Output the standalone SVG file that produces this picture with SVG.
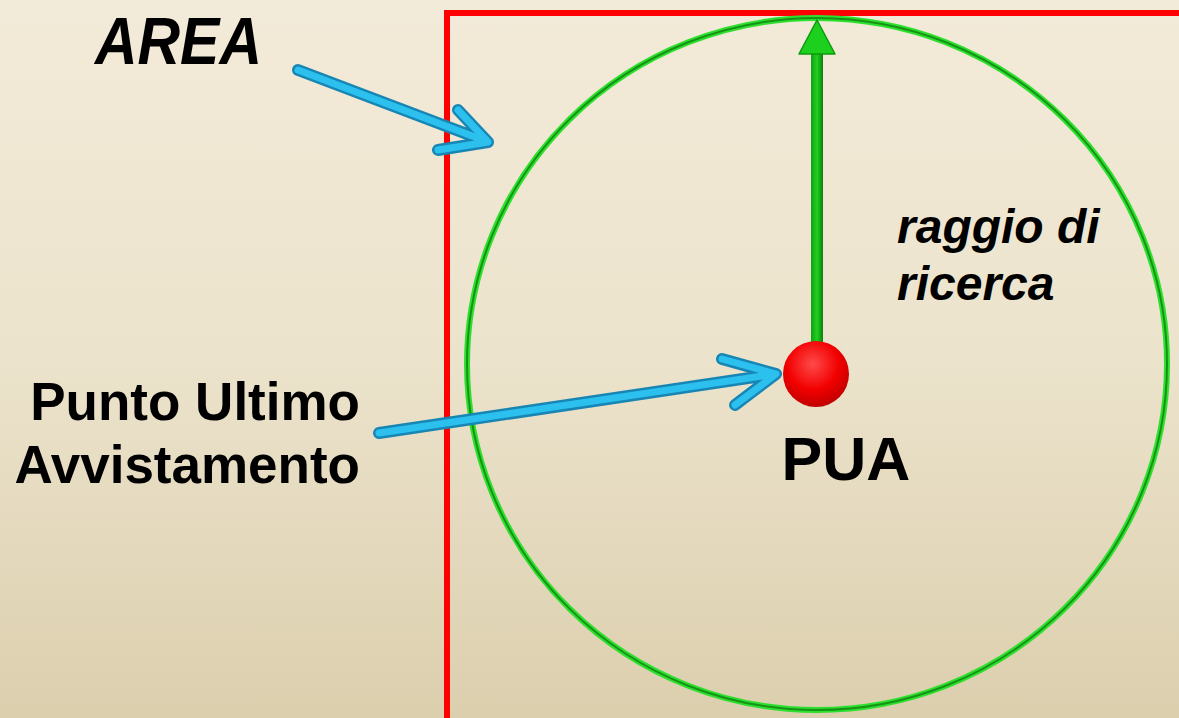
<svg xmlns="http://www.w3.org/2000/svg" width="1179" height="718" viewBox="0 0 1179 718">
<defs>
<linearGradient id="bg" x1="0" y1="0" x2="0" y2="1">
<stop offset="0" stop-color="#f3ebd9"/>
<stop offset="0.5" stop-color="#ece3cc"/>
<stop offset="1" stop-color="#dccfae"/>
</linearGradient>
<radialGradient id="ball" cx="0.45" cy="0.35" r="0.65">
<stop offset="0" stop-color="#ff4a4a"/>
<stop offset="0.6" stop-color="#f20000"/>
<stop offset="1" stop-color="#c00000"/>
</radialGradient>
<linearGradient id="shaft" x1="0" y1="0" x2="1" y2="0">
<stop offset="0" stop-color="#10a010"/>
<stop offset="0.5" stop-color="#22d022"/>
<stop offset="1" stop-color="#0a800a"/>
</linearGradient>
</defs>
<style>
.blue-o{fill:none;stroke:#1886b4;stroke-width:12;stroke-linecap:round;stroke-linejoin:round}
.blue-i{fill:none;stroke:#2cc0ee;stroke-width:7;stroke-linecap:round;stroke-linejoin:round}
.lbl{font-family:"Liberation Sans",Arial,sans-serif;font-weight:bold;fill:#000}
</style>
<rect width="1179" height="718" fill="url(#bg)"/>
<g id="area">
<path d="M447 725 V13 H1185" fill="none" stroke="#ff0000" stroke-width="6"/>
<text class="lbl" x="95" y="64" font-size="66" font-style="italic" textLength="167" lengthAdjust="spacingAndGlyphs">AREA</text>
</g>
<g id="circle">
<ellipse cx="817" cy="364" rx="350" ry="346" fill="none" stroke="#2ee02e" stroke-width="6"/>
<ellipse cx="817" cy="364" rx="350" ry="346" fill="none" stroke="#169216" stroke-width="2"/>
</g>
<g id="radius">
<rect x="811" y="52" width="12" height="295" fill="url(#shaft)"/>
<polygon points="817,20 799,54 835,54" fill="#1ed01e" stroke="#0c9a0c" stroke-width="1.5" stroke-linejoin="round"/>
<text class="lbl" font-size="48" font-style="italic"><tspan x="897" y="243">raggio di</tspan><tspan x="897" y="300">ricerca</tspan></text>
</g>
<g id="pua">
<circle cx="816" cy="374" r="33" fill="url(#ball)"/>
<text class="lbl" x="846" y="480" font-size="61" text-anchor="middle">PUA</text>
</g>
<g id="pua-label">
<text class="lbl" font-size="53" text-anchor="end"><tspan x="360" y="420">Punto Ultimo</tspan><tspan x="360" y="483">Avvistamento</tspan></text>
</g>
<g id="connectors">
<path class="blue-o" d="M298 70 L488 142 M458 110 L488 142 L438 150"/>
<path class="blue-i" d="M298 70 L488 142 M458 110 L488 142 L438 150"/>
<path class="blue-o" d="M379 433 L776 374 M722 359 L776 374 L735 405"/>
<path class="blue-i" d="M379 433 L776 374 M722 359 L776 374 L735 405"/>
</g>
</svg>
